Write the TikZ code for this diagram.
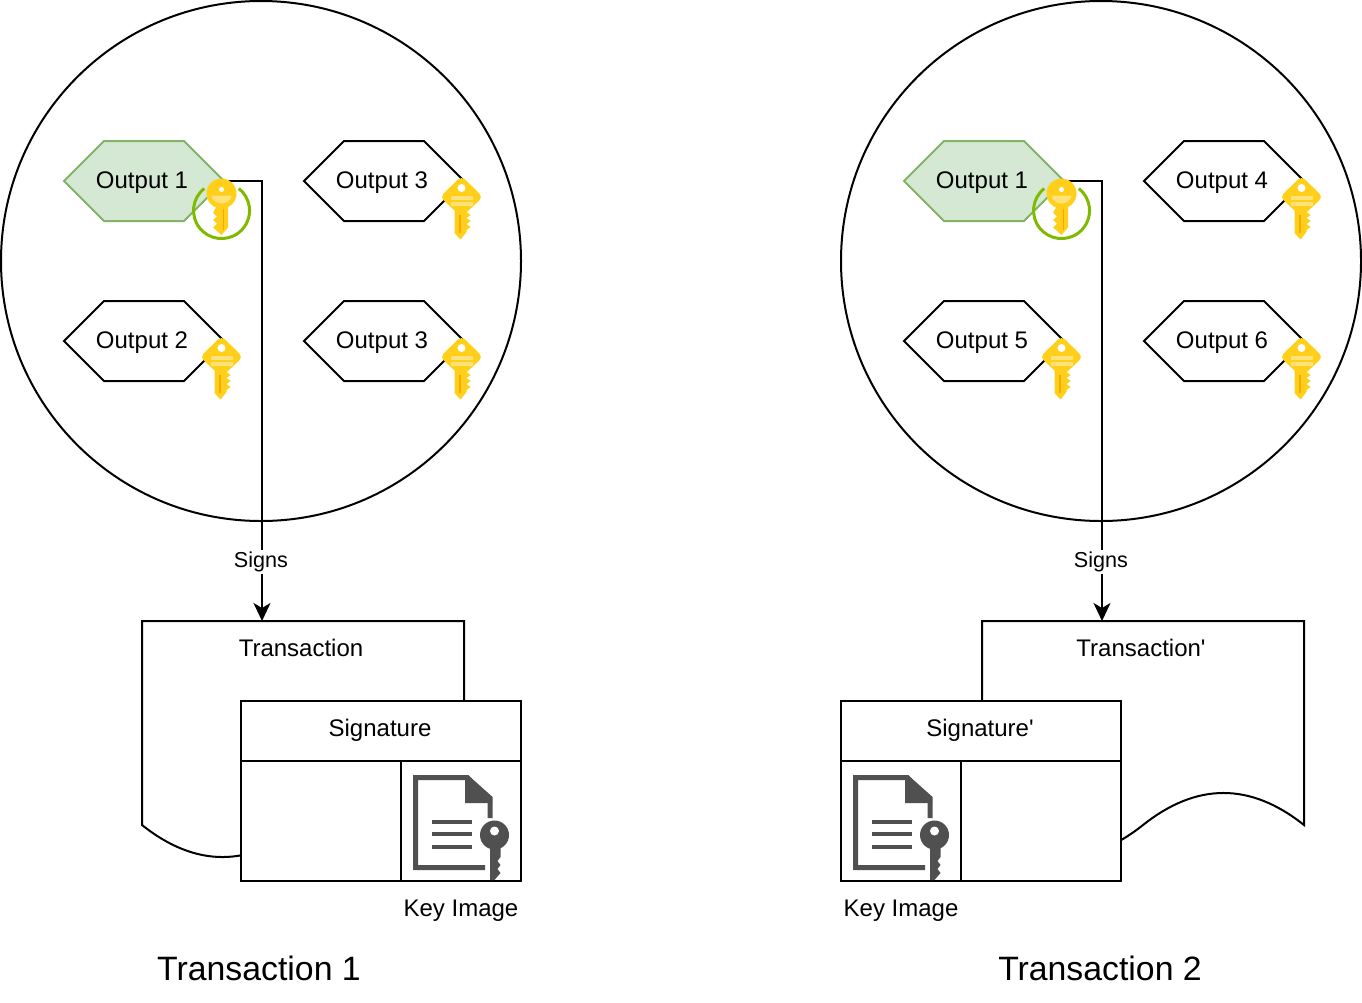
\documentclass[tikz,border=0pt]{standalone}
\usepackage{fontspec}
\setmainfont{Liberation Sans}
\usetikzlibrary{arrows.meta}
\definecolor{hexgreen}{HTML}{D5E8D4}
\definecolor{hexedge}{HTML}{82B366}
\definecolor{ringgreen}{HTML}{7FBA00}
\definecolor{keygold}{HTML}{FFCF1A}
\definecolor{keylight}{HTML}{FFE27A}
\definecolor{keydark}{HTML}{F8A800}
\definecolor{icongray}{HTML}{505050}
\tikzset{
    base/.style={line width=2pt},
    spent/.style={draw=hexedge, fill=hexgreen},
    label/.style={font=\fontsize{24}{28}\selectfont, inner sep=0pt},
    signs/.style={font=\fontsize{21.6}{26}\selectfont, fill=white, inner sep=2pt},
    title/.style={font=\fontsize{33.8}{40}\selectfont, inner sep=0pt},
    arrow/.style={base, -{Stealth[length=18pt, width=17pt, inset=5pt]}},
    % key of a plain output, origin at the centre of the head
    outputkey/.pic={
        \fill[keygold, rounded corners=5pt] (0, -21) -- (21.5, 0) -- (0, 20) -- (-21.5, 0) -- cycle;
        \fill[keygold] (-7, 8) -- (5, 8) -- (5, 15) -- (9, 18) -- (5, 21) -- (9, 24) -- (5, 27) -- (9, 30) -- (5, 33) -- (5, 35) -- (-1, 42.5) -- (-7, 36) -- cycle;
        \fill[keydark] (-3, 18) rectangle (-1, 36);
        \fill[keylight] (-11, -1) rectangle (11, 3);
        \fill[keylight] (-11, 4.5) rectangle (11, 8.5);
        \fill[white] (0, -9) circle (4pt);
    },
    % key of the output that is spent, origin at the centre of the head
    spentkey/.pic={
        \fill[keygold] (-4.5, 12) -- (6.5, 12) -- (6.5, 34) -- (0, 41.5) -- (-8.5, 34) -- (-4.5, 30) -- (-8.5, 26.5) -- (-4.5, 23) -- (-8.5, 19.5) -- cycle;
        \fill[keydark] (1, 15) rectangle (2.8, 36);
        \fill[keygold] (0, 0) circle (15pt);
        \fill[keylight] (-10, 2) -- (10, 2) .. controls (9, 12.5) and (-9, 12.5) .. (-10, 2) -- cycle;
        \fill[white] (0, -4) circle (2.5pt);
    },
    % document with a key, origin at its upper left corner
    keydoc/.pic={
        \draw[line width=5pt, icongray] (77, 43) -- (77, 23) -- (54, 2.5) -- (2.5, 2.5) -- (2.5, 92.5) -- (72, 92.5);
        \fill[icongray] (52, 3) -- (52, 28) -- (79, 28) -- (79, 23) -- (55, 0) -- cycle;
        \foreach \liney in {47, 59, 72}
            \draw[line width=4.5pt, icongray] (19, \liney) -- (59, \liney);
        \fill[icongray] (81.5, 60) circle (14.5pt);
        \fill[icongray] (77, 70) -- (87.5, 70) -- (87.5, 82) -- (84.5, 86) -- (87.5, 90) -- (84.5, 94) -- (87.5, 98) -- (81.5, 105) -- (77, 105) -- cycle;
        \fill[white] (81.5, 56) circle (4.5pt);
    }
}
% name, x, y, text and the look of the hexagon
\newcommand{\outputhex}[5][fill=white]{
    \draw [base, #1] (#3-80, #4) -- (#3-40, #4-40) -- (#3+40, #4-40) -- (#3+80, #4) -- (#3+40, #4+40) -- (#3-40, #4+40) -- cycle;
    \coordinate (#2) at (#3+80, #4);
    \node [label] (#2text) at (#3-2, #4+2) {#5};
}
\begin{document}
\begin{tikzpicture}[x=1pt, y=-1pt]
    \useasboundingbox (0, 0) rectangle (1362, 1002);

    % Rings
    \draw [base] (261, 261) circle (260pt);
    \draw [base] (1101, 261) circle (260pt);

    % Outputs of the first ring
    \outputhex[spent]{a1}{144}{181}{Output 1}
    \outputhex{a2}{144}{341}{Output 2}
    \outputhex{a3}{384}{181}{Output 3}
    \outputhex{a4}{384}{341}{Output 3}

    % Outputs of the second ring
    \outputhex[spent]{b1}{984}{181}{Output 1}
    \outputhex{b2}{984}{341}{Output 5}
    \outputhex{b3}{1224}{181}{Output 4}
    \outputhex{b4}{1224}{341}{Output 6}

    % Transactions
    \draw [base, fill=white] (142, 621) -- (464, 621) -- (464, 825)
        .. controls (410.3, 782.3) and (356.7, 782.3) .. (303, 825)
        .. controls (249.3, 867.7) and (195.7, 867.7) .. (142, 825) -- cycle;
    \draw [base, fill=white] (982, 621) -- (1304, 621) -- (1304, 825)
        .. controls (1250.3, 782.3) and (1196.7, 782.3) .. (1143, 825)
        .. controls (1089.3, 867.7) and (1035.7, 867.7) .. (982, 825) -- cycle;
    \node [label] (tx1) at (301, 648) {Transaction};
    \node [label] (tx2) at (1141, 648) {Transaction\textquotesingle};

    % Signs
    \coordinate (tx1top) at (262, 621);
    \coordinate (tx2top) at (1102, 621);
    \draw [arrow] (a1) -| (tx1top);
    \draw [arrow] (b1) -| (tx2top);
    \node [signs] (signs1) at (261, 562) {Signs};
    \node [signs] (signs2) at (1101, 562) {Signs};

    % Keys
    \foreach \keyx in {461.5, 1301.5}
        \pic at (\keyx, 197) {outputkey};
    \foreach \keyx in {221.5, 461.5, 1061.5, 1301.5}
        \pic at (\keyx, 357) {outputkey};
    \foreach \keyx in {221.5, 1061.5} {
        \pic at (\keyx, 193.5) {spentkey};
        \draw [line width=3pt, ringgreen] (\keyx-17.2, 188.5) arc [start angle=128, end angle=412, radius=28pt];
    }

    % Signatures
    \draw [base, fill=white] (241, 701) rectangle (521, 881);
    \draw [base] (241, 761) -- (521, 761);
    \draw [base] (401, 761) -- (401, 881);
    \draw [base, fill=white] (841, 701) rectangle (1121, 881);
    \draw [base] (841, 761) -- (1121, 761);
    \draw [base] (961, 761) -- (961, 881);
    \node [label] (sig1) at (380, 730) {Signature};
    \node [label] (sig2) at (980, 730) {Signature\textquotesingle};
    \pic at (413, 775) {keydoc};
    \pic at (853, 775) {keydoc};
    \node [label] (img1) at (461, 910.5) {Key Image};
    \node [label] (img2) at (901, 910.5) {Key Image};

    % Titles
    \node [title] (title1) at (259, 968) {Transaction 1};
    \node [title] (title2) at (1100, 968) {Transaction 2};
\end{tikzpicture}
\end{document}
